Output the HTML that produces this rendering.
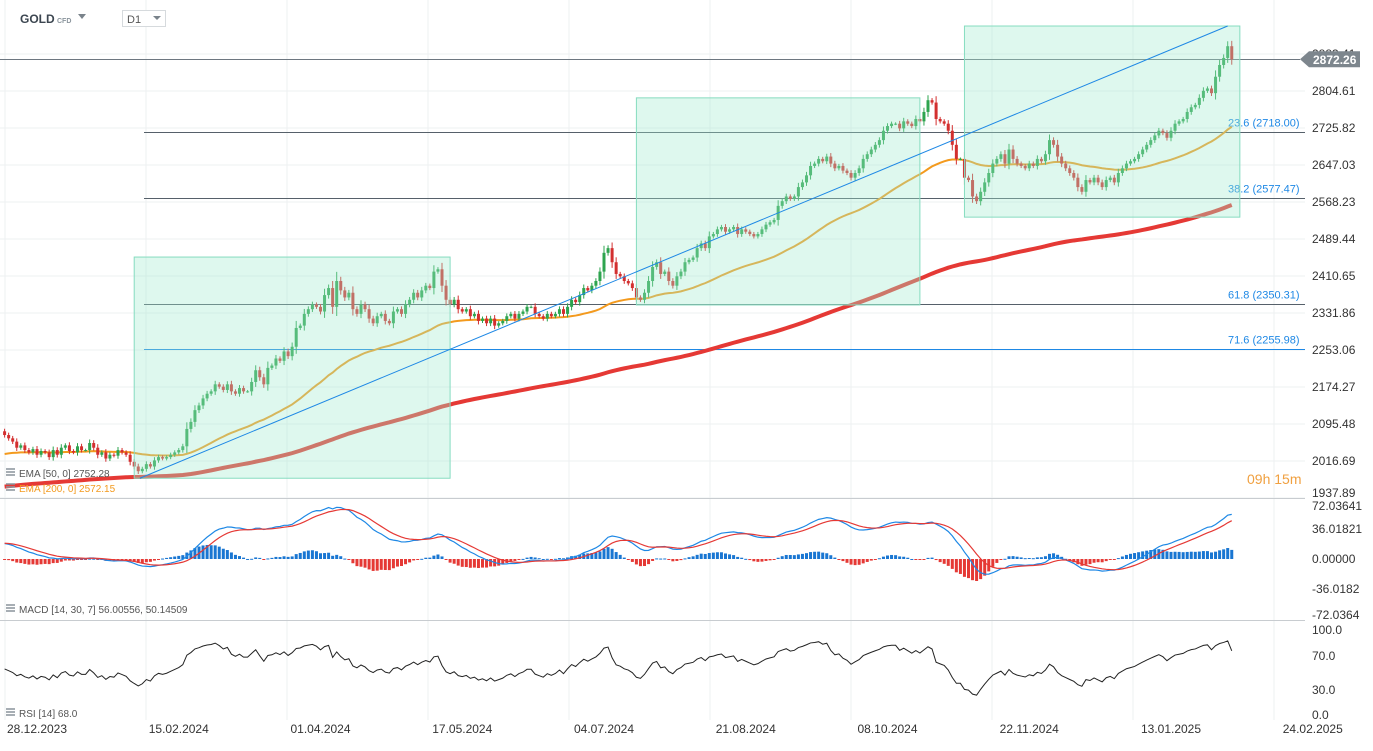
<!DOCTYPE html>
<html><head><meta charset="utf-8"><title>GOLD D1</title>
<style>
html,body{margin:0;padding:0;background:#fff;}
body{width:1373px;height:746px;overflow:hidden;font-family:"Liberation Sans",sans-serif;}
svg text{font-family:"Liberation Sans",sans-serif;}
</style></head>
<body>
<svg id="chart" width="1373" height="746" xmlns="http://www.w3.org/2000/svg">
<g id="grid"></g>
<g id="fib"></g>
<g id="emas"></g>
<g id="candles"></g>
<g id="boxes"></g>
<g id="macd"></g>
<g id="rsi"></g>
<g id="axes"></g>

<g>
<text x="20" y="23" font-size="12" font-weight="bold" fill="#3c4650">GOLD</text>
<text x="57" y="23" font-size="7" fill="#8a949c" font-weight="bold">CFD</text>
<path d="M78 14 L86 14 L82 19 Z" fill="#7a838b"/>
<rect x="122.5" y="10.5" width="43" height="16" fill="#fff" stroke="#d6dadd"/>
<text x="127" y="23" font-size="11" fill="#555">D1</text>
<path d="M153 16 L161 16 L157 20 Z" fill="#7a838b"/>
</g>
</svg>
<script>
const closes=[
2072,2065,2058,2045,2050,2040,2035,2042,2030,2038,
2035,2025,2040,2030,2045,2050,2038,2035,2048,2040,
2040,2055,2045,2030,2035,2022,2030,2028,2040,2035,
2030,2015,2005,1995,2000,2010,2005,2018,2025,2022,
2025,2030,2035,2040,2048,2085,2100,2125,2135,2150,
2160,2165,2180,2175,2168,2180,2165,2160,2172,2165,
2165,2185,2210,2195,2180,2215,2220,2235,2230,2250,
2240,2260,2300,2305,2330,2340,2350,2345,2335,2370,
2385,2345,2400,2380,2365,2375,2340,2330,2350,2340,
2320,2310,2325,2330,2315,2310,2335,2340,2330,2350,
2360,2375,2365,2380,2390,2385,2420,2425,2390,2360,
2350,2360,2340,2335,2340,2325,2330,2315,2320,2310,
2320,2305,2310,2315,2325,2330,2320,2330,2335,2345,
2345,2330,2325,2320,2330,2325,2330,2340,2330,2345,
2360,2355,2370,2385,2380,2390,2400,2420,2460,2470,
2440,2415,2410,2400,2395,2385,2365,2360,2375,2400,
2430,2440,2415,2420,2400,2390,2410,2420,2440,2445,
2450,2470,2480,2470,2495,2500,2510,2515,2505,2510,
2515,2500,2510,2505,2500,2495,2500,2510,2520,2525,
2530,2560,2570,2580,2575,2580,2600,2610,2625,2645,
2650,2660,2655,2665,2650,2640,2645,2635,2630,2620,
2630,2640,2660,2670,2680,2690,2700,2720,2730,2735,
2735,2725,2740,2735,2730,2745,2740,2760,2785,2780,
2745,2740,2735,2720,2690,2660,2660,2620,2615,2580,
2570,2590,2610,2630,2650,2660,2670,2650,2680,2660,
2650,2645,2640,2650,2645,2660,2655,2670,2700,2690,
2665,2650,2640,2630,2620,2600,2590,2615,2610,2620,
2610,2600,2615,2620,2610,2630,2640,2650,2655,2660,
2670,2680,2690,2700,2710,2720,2715,2705,2720,2735,
2740,2745,2760,2770,2775,2790,2805,2810,2800,2835,
2860,2875,2900,2872];
const priceTicks=[2883.41,2804.61,2725.82,2647.03,2568.23,2489.44,2410.65,2331.86,2253.06,2174.27,2095.48,2016.69,1937.89];
const fibLevels=[23.6,38.2,61.8,71.6];
const fibPrices=[2718.00,2577.47,2350.31,2255.98];
const dateLabels=["28.12.2023","15.02.2024","01.04.2024","17.05.2024","04.07.2024","21.08.2024","08.10.2024","22.11.2024","13.01.2025","24.02.2025"];
const dateIdx=[8,43,78,113,148,183,218,253,288,323];
const macdTicks=[72.03641,36.01821,0,-36.0182,-72.0364];
const macdTickLabels=["72.03641","36.01821","0.00000","-36.0182","-72.0364"];
const rsiTicks=[100,70,30,0];
const rsiTickLabels=["100.0","70.0","30.0","0.0"];
const currentPrice=2872.26;
const ema50Seed=2030, ema200Seed=1961;
const boxStartIdx=[32,156,237], boxEndIdx=[110,226,305];
const boxHigh=[2451,2790,2943], boxLow=[1980,2349,2536];
const trendFrom=[33.4,1980], trendTo=[302,2943];

const NS="http://www.w3.org/2000/svg";
function mk(tag,attrs,parent){const e=document.createElementNS(NS,tag);for(const k in attrs)e.setAttribute(k,attrs[k]);parent.appendChild(e);return e;}
function xI(i){return 4.6+i*4.05;}
function yP(p){return 91+(2804.61-p)*0.4696;}
function yM(v){return 559-v*0.833;}
function yR(v){return 716-v*0.86;}
const W=1305;
const grid=document.getElementById('grid');
for(let k=0;k<10;k++){const x=5+k*141;
 const l=mk('line',{x1:x,x2:x,y1:0,y2:720,stroke:'#eef0f2','stroke-width':1},grid);
 }
priceTicks.forEach(p=>{const y=yP(p);
 const l=mk('line',{x1:0,x2:W,y1:y,y2:y,stroke:'#eef0f2'},grid);
 });

const fib=document.getElementById('fib');
fibPrices.forEach((p,k)=>{const y=Math.round(yP(p))+0.5;
 const l=mk('line',{x1:144,x2:W,y1:y,y2:y,stroke:k==3?'#1e88e5':'#56606a','stroke-width':1},fib);
 
 const t=mk('text',{x:1228,y:y-6,'font-size':11,fill:'#1e88e5'},fib);
 t.textContent=fibLevels[k]+' ('+p.toFixed(2)+')';
 });
{const y=Math.round(yP(currentPrice))+0.5;
 const l=mk('line',{x1:0,x2:1300,y1:y,y2:y,stroke:'#6d7780'},fib);
 }

const e50=[],e200=[];let a=ema50Seed,b=ema200Seed;
closes.forEach(c=>{a+= (c-a)*2/51; b+=(c-b)*2/201; e50.push(a); e200.push(b);});
const emas=document.getElementById('emas');
const p200=mk('polyline',{points:e200.map((v,i)=>xI(i)+','+yP(v)).join(' '),fill:'none',stroke:'#e53935','stroke-width':4},emas);

const p50=mk('polyline',{points:e50.map((v,i)=>xI(i)+','+yP(v)).join(' '),fill:'none',stroke:'#f39a1e','stroke-width':2},emas);


const cg=document.getElementById('candles');
closes.forEach((c,i)=>{const o=i?closes[i-1]:2080;const d=Math.abs(c-o);
 const h=Math.max(o,c)+3+d*0.3,l=Math.min(o,c)-3-d*0.3;const x=xI(i);
 const col=c>=o?'#2ea44f':'#d32f2f';
 const w=mk('line',{x1:x,x2:x,y1:yP(h),y2:yP(l),stroke:col,'stroke-width':1},cg);
 
 const top=yP(Math.max(o,c)),bot=yP(Math.min(o,c));
 const r=mk('rect',{x:x-1.5,y:top,width:3,height:Math.max(1,bot-top),fill:col},cg);
 });

const bg=document.getElementById('boxes');
boxStartIdx.forEach((s,k)=>{const x1=xI(s),x2=xI(boxEndIdx[k]);const y1=yP(boxHigh[k]),y2=yP(boxLow[k]);
 const r=mk('rect',{x:x1,y:y1,width:x2-x1,height:y2-y1,fill:'rgba(160,235,205,0.35)',stroke:'#86dcc0','stroke-width':1},bg);
 });
{const t=mk('line',{x1:xI(trendFrom[0]),y1:yP(trendFrom[1]),x2:xI(trendTo[0]),y2:yP(trendTo[1]),stroke:'#1e88e5','stroke-width':1},bg);
 }

const mg=document.getElementById('macd');
let f=2060,s=2041,sig=19;const mv=[],sv=[],hv=[];
closes.forEach(c=>{f+=(c-f)*2/15;s+=(c-s)*2/31;const m=f-s;sig+=(m-sig)*2/8;mv.push(m);sv.push(sig);hv.push(m-sig);});
hv.forEach((h,i)=>{const y0=559,y1=559-h*1.2;
 const r=mk('rect',{x:xI(i)-1.5,y:Math.min(y0,y1),width:3,height:Math.max(1,Math.abs(y1-y0)),fill:h>=0?'#1976d2':'#e53935'},mg);
 });
const ml=mk('polyline',{points:mv.map((v,i)=>xI(i)+','+yM(v)).join(' '),fill:'none',stroke:'#1e88e5','stroke-width':1.2},mg);

const sl=mk('polyline',{points:sv.map((v,i)=>xI(i)+','+yM(v)).join(' '),fill:'none',stroke:'#e53935','stroke-width':1.2},mg);


const rg=document.getElementById('rsi');
let ag=8,al=6;const rv=[];
closes.forEach((c,i)=>{const o=i?closes[i-1]:2080;const d=c-o;ag=(ag*13+Math.max(d,0))/14;al=(al*13+Math.max(-d,0))/14;rv.push(100-100/(1+ag/al));});
const rl=mk('polyline',{points:rv.map((v,i)=>xI(i)+','+yR(v)).join(' '),fill:'none',stroke:'#222','stroke-width':1},rg);


const ax=document.getElementById('axes');
[498.5,620.5].forEach(y=>{const l=mk('line',{x1:0,x2:1305,y1:y,y2:y,stroke:'#c8ccd0'},ax);
 });
priceTicks.forEach((p,k)=>{const t=mk('text',{x:1312,y:(k==12?497:yP(p)+4),'font-size':12,fill:'#333'},ax);t.textContent=p.toFixed(2);
 });
macdTicks.forEach((v,k)=>{const y=Math.min(Math.max(yM(v)+4,510),619);const t=mk('text',{x:1312,y:y,'font-size':12,fill:'#333'},ax);t.textContent=macdTickLabels[k];
 });
rsiTicks.forEach((v,k)=>{const t=mk('text',{x:1312,y:Math.min(yR(v)+4,719),'font-size':12,fill:'#333'},ax);t.textContent=rsiTickLabels[k];
 });
dateLabels.forEach((d,k)=>{const t=mk('text',{x:xI(dateIdx[k]),y:733,'font-size':12,fill:'#333','text-anchor':'middle'},ax);t.textContent=d;
 });
{const y=yP(currentPrice);
 const p=mk('path',{d:`M1300 ${y} L1309 ${y-8} L1360 ${y-8} L1360 ${y+8} L1309 ${y+8} Z`,fill:'#7d868d'},ax);
 
 const t=mk('text',{x:1313,y:y+5,'font-size':12,'font-weight':'bold',fill:'#fff'},ax);t.textContent=currentPrice.toFixed(2);
 }
function legend(x,y,txt,col,name){
 const i=mk('path',{d:`M${x} ${y-8}h9M${x} ${y-5}h9M${x} ${y-2}h9`,stroke:'#8a949c','stroke-width':1.5},ax);
 
 const t=mk('text',{x:x+13,y:y,'font-size':10,fill:col},ax);t.textContent=txt;
 }
legend(6,477,'EMA [50, 0] 2752.28','#555','ema-50-legend');
legend(6,492,'EMA [200, 0] 2572.15','#f39a1e','ema-200-legend');
legend(6,613,'MACD [14, 30, 7] 56.00556, 50.14509','#555','macd-legend');
legend(6,717,'RSI [14] 68.0','#555','rsi-legend');
{const t=mk('text',{x:1247,y:484,'font-size':14,fill:'#f0a040'},ax);t.textContent='09h 15m';
 }
</script>
</body></html>
